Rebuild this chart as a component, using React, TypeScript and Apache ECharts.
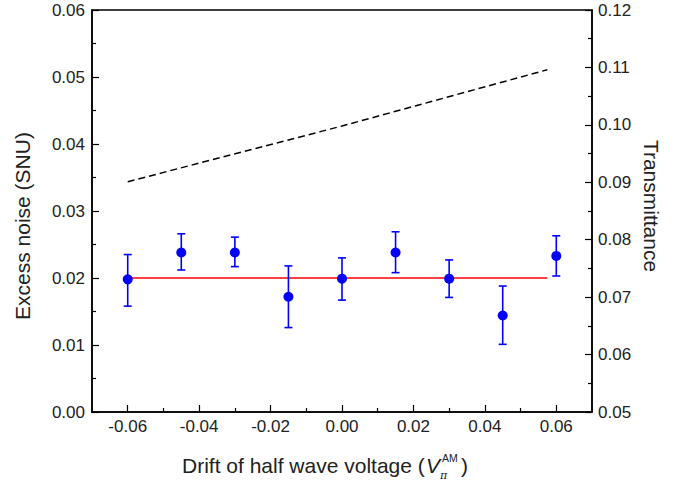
import React, { useEffect, useRef } from "react";
import * as echarts from "echarts";

// ---- data ----
const driftValues = [-0.06, -0.045, -0.03, -0.015, 0, 0.015, 0.03, 0.045, 0.06];
const excessNoise = [0.0198, 0.0238, 0.0238, 0.0172, 0.0199, 0.0238, 0.0199, 0.0144, 0.0233];
const errLow = [0.0158, 0.0212, 0.0217, 0.0126, 0.0167, 0.0208, 0.0171, 0.0101, 0.0203];
const errHigh = [0.0235, 0.0266, 0.0261, 0.0218, 0.023, 0.0269, 0.0227, 0.0188, 0.0263];

const meanX = [-0.06, 0.0575];
const meanNoise = [0.02, 0.02];

const transX = [-0.06, 0, 0.0575];
const transmittance = [0.0901, 0.0998, 0.1096];

const xMajorTicks = [-0.06, -0.04, -0.02, 0, 0.02, 0.04, 0.06];
const xMinorTicks = [-0.05, -0.03, -0.01, 0.01, 0.03, 0.05];

const FONT = '"Liberation Sans", Arial, Helvetica, sans-serif';
const TXT = "#222";

export default function App() {
  const ref = useRef<HTMLDivElement>(null);

  useEffect(() => {
    if (!ref.current) return;
    const chart = echarts.init(ref.current, undefined, { renderer: "svg" });

    const axisLine = { show: true, onZero: false, lineStyle: { color: "#000", width: 1.5 } };

    const option: any = {
      animation: false,
      backgroundColor: "#fff",
      grid: {
        left: 92,
        right: 98,
        top: 10,
        bottom: 71,
        show: true,
        borderColor: "#000",
        borderWidth: 1.5,
        backgroundColor: "transparent",
      },
      xAxis: [
        {
          type: "value",
          min: -0.07,
          max: 0.07,
          position: "bottom",
          axisLine,
          splitLine: { show: false },
          axisTick: {
            show: true,
            inside: true,
            length: 7,
            lineStyle: { color: "#000", width: 1.2 },
            customValues: xMajorTicks,
          },
          axisLabel: {
            show: true,
            margin: 6,
            color: TXT,
            fontSize: 17,
            fontFamily: FONT,
            customValues: xMajorTicks,
            formatter: (v: number) => v.toFixed(2),
          },
        },
        {
          type: "value",
          min: -0.07,
          max: 0.07,
          position: "bottom",
          axisLine: { show: false, onZero: false },
          splitLine: { show: false },
          axisTick: {
            show: true,
            inside: true,
            length: 4,
            lineStyle: { color: "#000", width: 1.2 },
            customValues: xMinorTicks,
          },
          axisLabel: { show: false },
        },
      ],
      yAxis: [
        {
          type: "value",
          min: 0,
          max: 0.06,
          interval: 0.01,
          position: "left",
          axisLine,
          splitLine: { show: false },
          axisTick: { show: true, inside: true, length: 7, lineStyle: { color: "#000", width: 1.2 } },
          minorTick: { show: true, splitNumber: 2, length: 4, lineStyle: { color: "#000", width: 1.2 } },
          minorSplitLine: { show: false },
          axisLabel: {
            margin: 7,
            color: TXT,
            fontSize: 17,
            fontFamily: FONT,
            formatter: (v: number) => v.toFixed(2),
          },
        },
        {
          type: "value",
          min: 0.05,
          max: 0.12,
          interval: 0.01,
          position: "right",
          axisLine,
          splitLine: { show: false },
          axisTick: { show: true, inside: true, length: 7, lineStyle: { color: "#000", width: 1.2 } },
          minorTick: { show: true, splitNumber: 2, length: 4, lineStyle: { color: "#000", width: 1.2 } },
          minorSplitLine: { show: false },
          axisLabel: {
            margin: 6,
            color: TXT,
            fontSize: 17,
            fontFamily: FONT,
            formatter: (v: number) => v.toFixed(2),
          },
        },
      ],
      series: [
        {
          name: "Transmittance",
          type: "line",
          xAxisIndex: 0,
          yAxisIndex: 1,
          data: transX.map((x, i) => [x, transmittance[i]]),
          symbol: "none",
          lineStyle: { color: "#000", width: 1.5, type: [7, 4] },
          z: 2,
        },
        {
          name: "Mean",
          type: "line",
          xAxisIndex: 0,
          yAxisIndex: 0,
          data: meanX.map((x, i) => [x, meanNoise[i]]),
          symbol: "none",
          lineStyle: { color: "#ff0000", width: 1.6 },
          z: 2,
        },
        {
          name: "Error",
          type: "custom",
          xAxisIndex: 0,
          yAxisIndex: 0,
          data: driftValues.map((x, i) => [x, errLow[i], errHigh[i]]),
          renderItem: (params: any, api: any) => {
            const x = api.value(0);
            const lo = api.coord([x, api.value(1)]);
            const hi = api.coord([x, api.value(2)]);
            const hw = 4;
            const style = { stroke: "#0000ff", lineWidth: 1.6 };
            return {
              type: "group",
              children: [
                { type: "line", shape: { x1: lo[0], y1: lo[1], x2: hi[0], y2: hi[1] }, style },
                { type: "line", shape: { x1: lo[0] - hw, y1: lo[1], x2: lo[0] + hw, y2: lo[1] }, style },
                { type: "line", shape: { x1: hi[0] - hw, y1: hi[1], x2: hi[0] + hw, y2: hi[1] }, style },
              ],
            };
          },
          encode: { x: 0, y: [1, 2] },
          z: 3,
        },
        {
          name: "Excess noise",
          type: "scatter",
          xAxisIndex: 0,
          yAxisIndex: 0,
          data: driftValues.map((x, i) => [x, excessNoise[i]]),
          symbol: "circle",
          symbolSize: 10,
          itemStyle: { color: "#0000ff", opacity: 1 },
          z: 4,
        },
      ],
      graphic: [
        {
          type: "text",
          x: 22,
          y: 226,
          rotation: Math.PI / 2,
          style: {
            text: "Excess noise (SNU)",
            fill: TXT,
            font: `21px ${FONT}`,
            align: "center",
            verticalAlign: "middle",
          },
        },
        {
          type: "text",
          x: 651,
          y: 206,
          rotation: -Math.PI / 2,
          style: {
            text: "Transmittance",
            fill: TXT,
            font: `21px ${FONT}`,
            align: "center",
            verticalAlign: "middle",
          },
        },
        {
          type: "group",
          children: [
            {
              type: "text",
              x: 182,
              y: 465,
              style: {
                text: "Drift of half wave voltage (",
                fill: TXT,
                font: `21px ${FONT}`,
                align: "left",
                verticalAlign: "middle",
              },
            },
            {
              type: "text",
              x: 426,
              y: 465,
              style: {
                text: "V",
                fill: TXT,
                font: `italic 21px ${FONT}`,
                align: "left",
                verticalAlign: "middle",
              },
            },
            {
              type: "text",
              x: 442,
              y: 458,
              style: {
                text: "AM",
                fill: TXT,
                font: `10.5px ${FONT}`,
                align: "left",
                verticalAlign: "middle",
              },
            },
            {
              type: "text",
              x: 440,
              y: 475,
              style: {
                text: "π",
                fill: TXT,
                font: `italic 11px "DejaVu Serif", serif`,
                align: "left",
                verticalAlign: "middle",
              },
            },
            {
              type: "text",
              x: 461,
              y: 465,
              style: {
                text: ")",
                fill: TXT,
                font: `21px ${FONT}`,
                align: "left",
                verticalAlign: "middle",
              },
            },
          ],
        },
      ],
    };

    chart.setOption(option);
    return () => chart.dispose();
  }, []);

  return <div ref={ref} style={{ width: 690, height: 483, position: "fixed", left: 0, top: 0 }} />;
}
